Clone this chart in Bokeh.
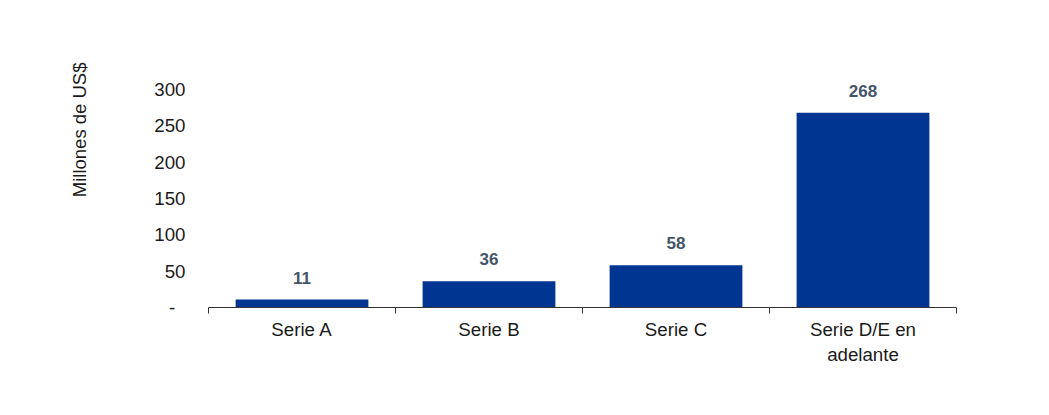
from bokeh.plotting import figure
from bokeh.models import Range1d, FixedTicker, ColumnDataSource, Title
from bokeh.core.properties import value
from bokeh.embed import file_html
from bokeh.resources import INLINE

categories = ["Serie A", "Serie B", "Serie C", "Serie D/E en\nadelante"]
values = [11, 36, 58, 268]
y_ticks = [0, 50, 100, 150, 200, 250, 300]
y_tick_labels = ["-\u00a0\u00a0", "50", "100", "150", "200", "250", "300"]
y_title = "Millones de US$"

FONT = "Liberation Sans"
BAR = "#003591"

xs = [i + 0.5 for i in range(len(categories))]
src = ColumnDataSource(dict(x=xs, top=values, label=[str(v) for v in values]))

p = figure(width=1030, height=395, output_backend="svg", toolbar_location=None,
           x_range=Range1d(0, len(categories)), y_range=Range1d(0, 340),
           min_border_left=208, min_border_right=74, min_border_top=60, min_border_bottom=88)
p.outline_line_color = None
p.xgrid.grid_line_color = None
p.ygrid.grid_line_color = None
p.background_fill_color = "white"
p.border_fill_color = "white"

p.vbar(x="x", top="top", width=0.71, bottom=0, source=src, fill_color=BAR, line_color=None)
p.text(x="x", y="top", text="label", source=src, text_align="center", text_baseline="alphabetic",
       y_offset=-22, text_font=value(FONT), text_font_size="17px", text_font_style="bold",
       text_color="#44546A")

# x axis
xa = p.xaxis[0]
xa.ticker = FixedTicker(ticks=xs, minor_ticks=list(range(len(categories) + 1)))
xa.major_label_overrides = {x: c for x, c in zip(xs, categories)}
xa.major_tick_line_color = None
xa.major_tick_out = 0
xa.major_tick_in = 0
xa.minor_tick_line_color = "#333333"
xa.minor_tick_out = 6
xa.minor_tick_in = 0
xa.axis_line_color = "#333333"
xa.major_label_standoff = 5
xa.major_label_text_font = FONT
xa.major_label_text_font_size = "18.7px"
xa.major_label_text_color = "#1a1a1a"

# y axis
ya = p.yaxis[0]
ya.ticker = FixedTicker(ticks=y_ticks, minor_ticks=[])
ya.major_label_overrides = {t: l for t, l in zip(y_ticks, y_tick_labels)}
ya.axis_line_color = None
ya.major_tick_line_color = None
ya.minor_tick_line_color = None
ya.major_label_standoff = 17
ya.major_label_text_font = FONT
ya.major_label_text_font_size = "18.7px"
ya.major_label_text_color = "#1a1a1a"

t = Title(text=y_title, align="right", offset=2, standoff=124,
          text_font=FONT, text_font_size="18.5px", text_font_style="normal", text_color="#1a1a1a")
p.add_layout(t, "left")

open("out.html", "w").write(file_html(p, INLINE))
